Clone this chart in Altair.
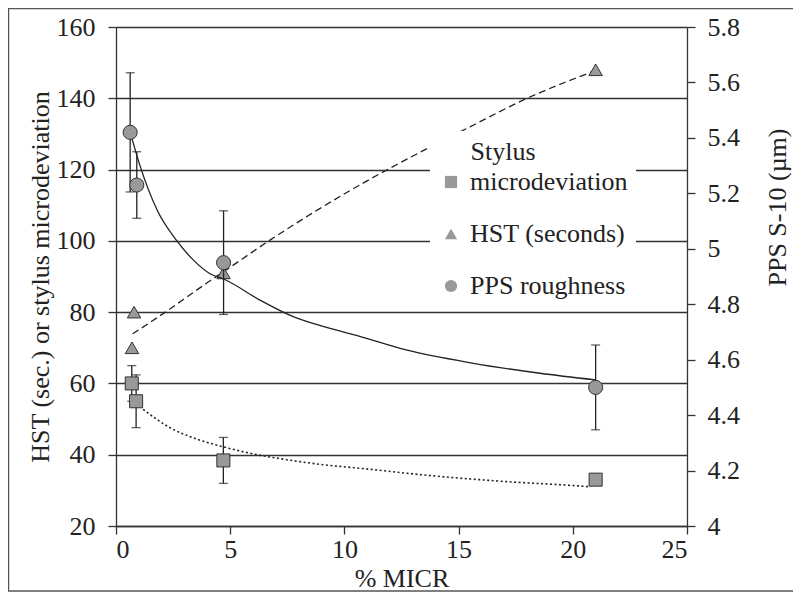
import altair as alt
import pandas as pd

# ---------------- data ----------------
SERIES = ["Stylus microdeviation", "HST (seconds)", "PPS roughness"]
SHAPES = ["square", "triangle-up", "circle"]

# Stylus microdeviation (left axis)
sty_x = [0.69, 0.88, 4.70, 21.0]
sty_y = [60.0, 55.0, 38.4, 33.0]
sty_err = [5.0, 7.4, 6.45, 0.0]

# HST (seconds) (left axis)
hst_x = [0.79, 0.70, 4.71, 21.0]
hst_y = [80.0, 70.0, 91.0, 148.0]

# PPS roughness (right axis)
pps_x = [0.62, 0.91, 4.71, 21.0]
pps_y = [5.42, 5.23, 4.95, 4.50]
pps_err = [0.215, 0.12, 0.187, 0.153]

# trend lines
sty_fit_x = [1.19, 2.36, 3.53, 4.70, 6.02, 7.48, 8.93, 10.68, 14.0, 17.0, 19.9, 20.75]
sty_fit_y = [52.7, 47.6, 44.4, 42.2, 40.2, 38.6, 37.3, 36.2, 34.0, 32.5, 31.4, 31.0]
hst_fit_x = [0.73, 1.93, 4.12, 4.70, 6.74, 10.68, 12.0, 15.5, 18.0, 21.0]
hst_fit_y = [73.9, 79.0, 88.8, 91.3, 100.2, 115.7, 120.4, 132.0, 140.0, 147.8]
pps_fit_x = [0.69, 1.05, 1.8, 2.65, 3.38, 4.12, 4.74, 6.3, 7.76, 9.5, 10.7, 12.7, 15.65, 18.56, 21.0]
pps_fit_y = [5.40, 5.30, 5.14, 5.03, 4.96, 4.91, 4.89, 4.815, 4.755, 4.71, 4.683, 4.635, 4.587, 4.551, 4.527]

x_ticks = [0, 5, 10, 15, 20, 25]
left_ticks = [20, 40, 60, 80, 100, 120, 140, 160]
right_ticks = [4.0, 4.2, 4.4, 4.6, 4.8, 5.0, 5.2, 5.4, 5.6, 5.8]

X_TITLE = "% MICR"
LEFT_TITLE = "HST (sec.) or stylus microdeviation"
RIGHT_TITLE = "PPS S-10 (\u00b5m)"
# leading no-break spaces indent the title over the labels (the zero-width
# space keeps them from being trimmed)
LEGEND_TITLE = "\u200b\u00a0\u00a0\u00a0\u00a0\u00a0Stylus"

# ---------------- styling ----------------
FONT = "Liberation Serif"
FS = 26
INK = "#222222"
FILL = "#999999"
EDGE = "#333333"

W, H = 571, 499

sty_df = pd.DataFrame({"x": sty_x, "y": sty_y, "err": sty_err, "series": SERIES[0]})
hst_df = pd.DataFrame({"x": hst_x, "y": hst_y, "series": SERIES[1]})
pps_df = pd.DataFrame({"x": pps_x, "y": pps_y, "err": pps_err, "series": SERIES[2]})
sty_fit = pd.DataFrame({"x": sty_fit_x, "y": sty_fit_y})
hst_fit = pd.DataFrame({"x": hst_fit_x, "y": hst_fit_y})
pps_fit = pd.DataFrame({"x": pps_fit_x, "y": pps_fit_y})

x_axis = alt.Axis(values=x_ticks, title=X_TITLE, grid=False, labelPadding=2,
                  titleBaseline="alphabetic", titleY=60, titleX=W / 2, titleAlign="center")
left_axis = alt.Axis(orient="left", values=left_ticks, grid=True, title=LEFT_TITLE,
                     titleAngle=270, titleX=-76, titleY=H / 2, titleBaseline="middle",
                     titleAlign="center", labelPadding=13)
right_axis = alt.Axis(orient="right", values=right_ticks, grid=False, format="~g",
                      title=RIGHT_TITLE, titleAngle=270, titleX=90, titleY=180,
                      titleBaseline="middle", titleAlign="center", labelPadding=12)


def X(field="x"):
    return alt.X(f"{field}:Q", scale=alt.Scale(domain=[0, 25], nice=False, zero=False), axis=x_axis)


def YL(field):
    return alt.Y(f"{field}:Q", scale=alt.Scale(domain=[20, 160], nice=False, zero=False), axis=left_axis)


def YR(field):
    return alt.Y(f"{field}:Q", scale=alt.Scale(domain=[4, 5.8], nice=False, zero=False), axis=right_axis)


legend = alt.Legend(
    title=LEGEND_TITLE, orient="none", legendX=314, legendY=104, direction="vertical",
    fillColor="white", padding=8,
    titleFont=FONT, titleFontSize=FS, titleFontWeight="normal", titleColor=INK,
    titlePadding=4, titleAnchor="start", titleLimit=400,
    labelFont=FONT, labelFontSize=FS, labelColor=INK, labelLimit=400,
    labelExpr="datum.label == 'Stylus microdeviation' ? 'microdeviation' : datum.label",
    symbolSize=150, symbolFillColor=FILL, symbolStrokeColor=EDGE, symbolStrokeWidth=1,
    labelOffset=6, rowPadding=26,
)
SHAPE = alt.Shape("series:N", scale=alt.Scale(domain=SERIES, range=SHAPES), legend=legend)

# frame round the whole figure
frame = alt.Chart(pd.DataFrame({"k": [0]})).mark_rect(
    fillOpacity=0, stroke="#555555", strokeWidth=1.5
).encode(x=alt.value(-107.5), x2=alt.value(680), y=alt.value(-18.5), y2=alt.value(564))

# ----- left-axis layers -----
sty_line = alt.Chart(sty_fit).mark_line(color=INK, strokeWidth=1.6, strokeDash=[2, 2.5],
                                        interpolate="monotone").encode(x=X(), y=YL("y"))
hst_line = alt.Chart(hst_fit).mark_line(color=INK, strokeWidth=1.3, strokeDash=[7, 4],
                                        interpolate="monotone").encode(x=X(), y=YL("y"))

sty_base = alt.Chart(sty_df).transform_filter("datum.err > 0").transform_calculate(
    lo="datum.y - datum.err", hi="datum.y + datum.err")
sty_rule = sty_base.mark_rule(color=INK, strokeWidth=1.3).encode(x=X(), y=YL("lo"), y2="hi:Q")
sty_cap1 = sty_base.mark_tick(orient="horizontal", color=INK, size=9, thickness=1.3).encode(x=X(), y=YL("lo"))
sty_cap2 = sty_base.mark_tick(orient="horizontal", color=INK, size=9, thickness=1.3).encode(x=X(), y=YL("hi"))

sty_pts = alt.Chart(sty_df).mark_point(filled=True, fill=FILL, stroke=EDGE, strokeWidth=1,
                                       opacity=1, size=170).encode(x=X(), y=YL("y"), shape=SHAPE)
hst_pts = alt.Chart(hst_df).mark_point(filled=True, fill=FILL, stroke=EDGE, strokeWidth=1,
                                       opacity=1, size=180).encode(x=X(), y=YL("y"), shape=SHAPE)

left = alt.layer(frame, sty_line, hst_line, sty_rule, sty_cap1, sty_cap2, sty_pts, hst_pts)

# ----- right-axis layers -----
pps_line = alt.Chart(pps_fit).mark_line(color=INK, strokeWidth=1.3,
                                        interpolate="monotone").encode(x=X(), y=YR("y"))
pps_base = alt.Chart(pps_df).transform_calculate(lo="datum.y - datum.err", hi="datum.y + datum.err")
pps_rule = pps_base.mark_rule(color=INK, strokeWidth=1.3).encode(x=X(), y=YR("lo"), y2="hi:Q")
pps_cap1 = pps_base.mark_tick(orient="horizontal", color=INK, size=9, thickness=1.3).encode(x=X(), y=YR("lo"))
pps_cap2 = pps_base.mark_tick(orient="horizontal", color=INK, size=9, thickness=1.3).encode(x=X(), y=YR("hi"))
pps_pts = alt.Chart(pps_df).mark_point(filled=True, fill=FILL, stroke=EDGE, strokeWidth=1,
                                       opacity=1, size=200).encode(x=X(), y=YR("y"), shape=SHAPE)

right = alt.layer(pps_line, pps_rule, pps_cap1, pps_cap2, pps_pts)

chart = alt.layer(left, right).resolve_scale(y="independent").properties(
    width=W, height=H,
    autosize=alt.AutoSizeParams(type="none"),
    padding={"left": 108, "top": 19, "right": 106, "bottom": 66},
    background="white",
).configure_view(strokeWidth=0).configure_axis(
    labelFont=FONT, labelFontSize=FS, labelColor=INK,
    titleFont=FONT, titleFontSize=FS, titleFontWeight="normal", titleColor=INK,
    domainColor=EDGE, domainWidth=1.3, tickColor=EDGE, tickWidth=1.3, tickSize=8,
    gridColor="#333333", gridWidth=1.3, gridOpacity=1,
)

chart.save("out.html", embed_options={"renderer": "svg", "actions": False})
